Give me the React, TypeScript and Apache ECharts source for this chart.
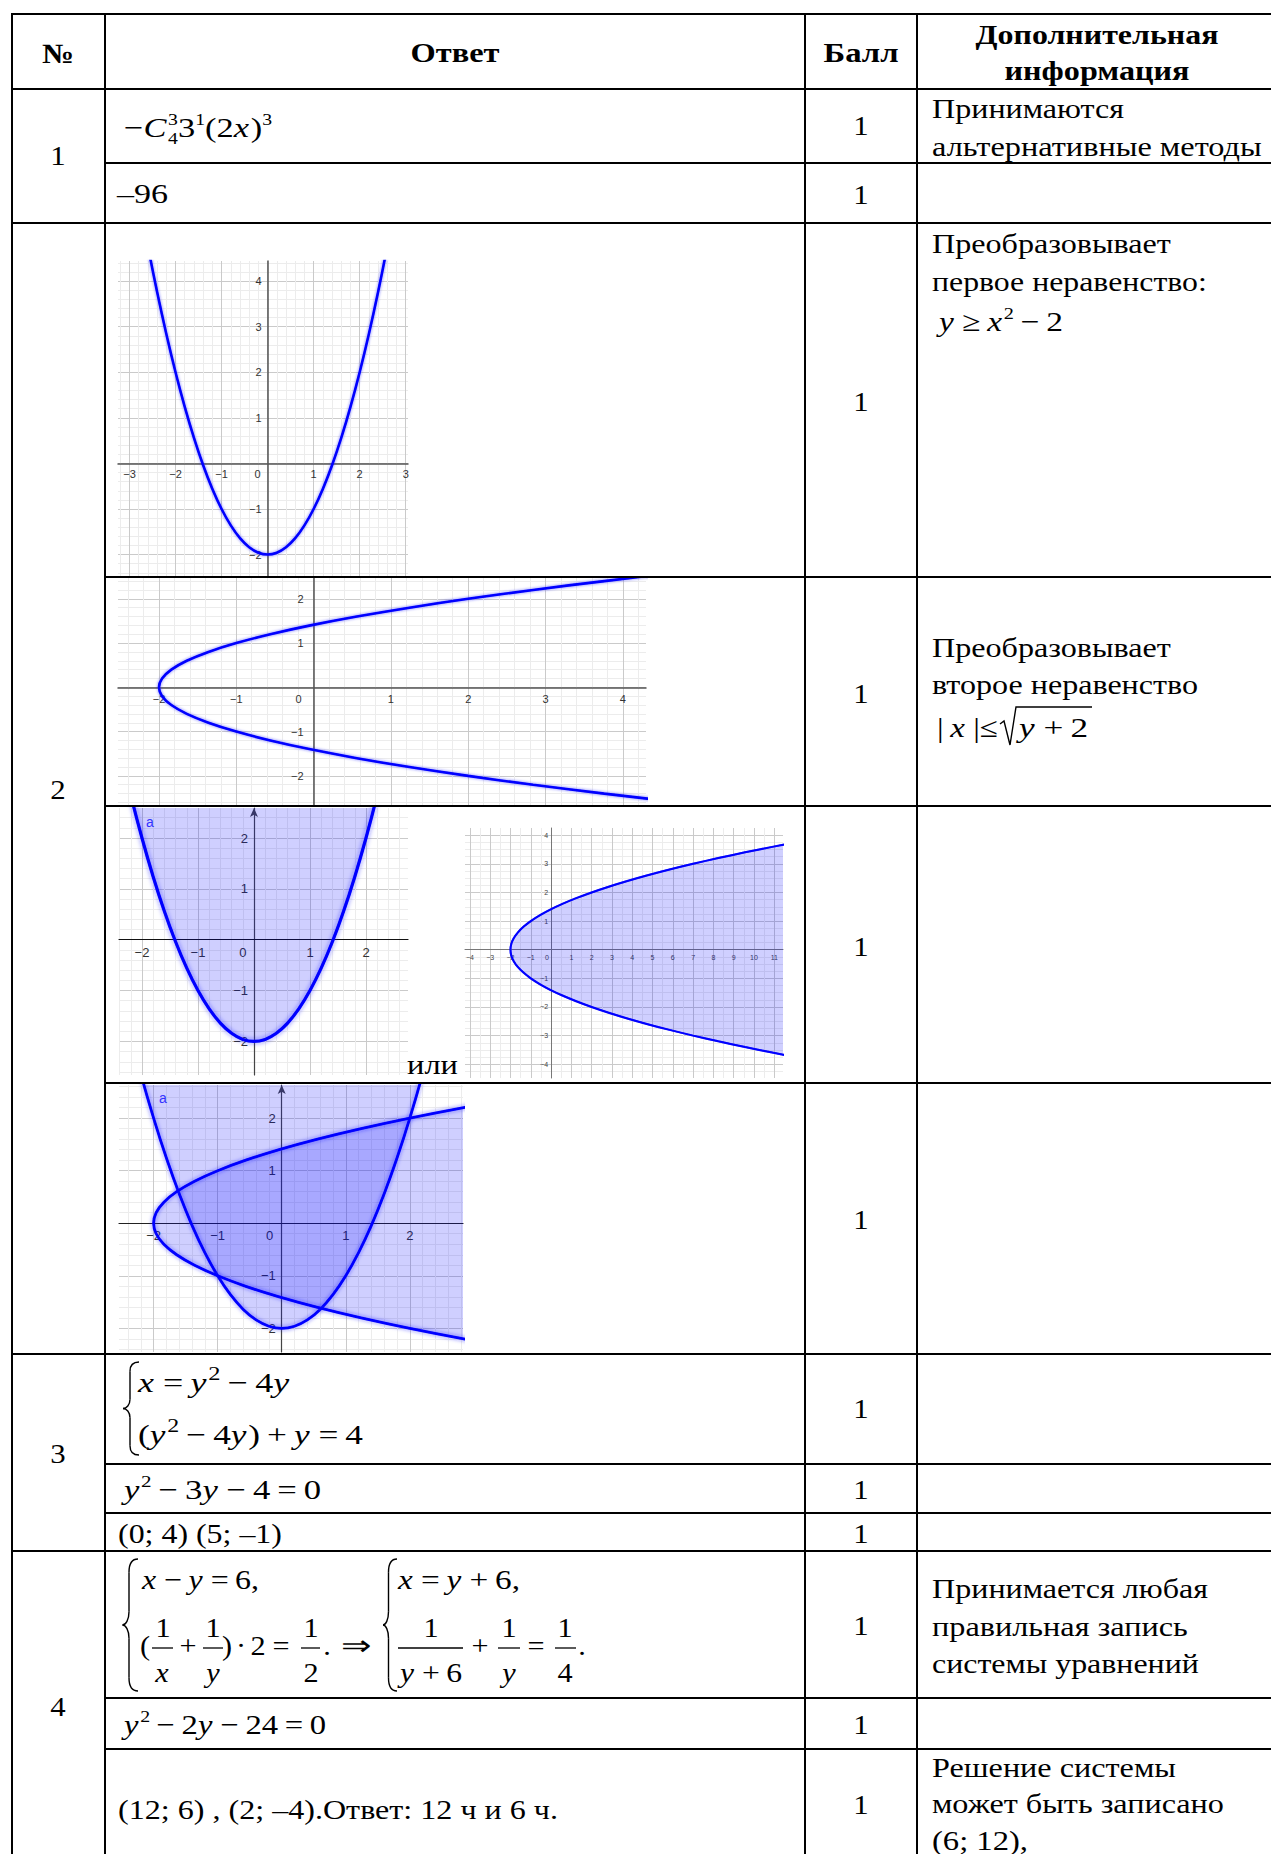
import React, { useEffect, useRef } from 'react';
import * as echarts from 'echarts';

// ---------- content ----------
const HEADER_TITLES = ['№', 'Ответ', 'Балл'];
const HEADER_NOTE_LINES = ['Дополнительная', 'информация'];
const TASK_NUMBERS = ['1', '2', '3', '4'];
const SCORES = ['1', '1', '1', '1', '1', '1', '1', '1', '1', '1', '1', '1'];
const NOTE_TASK1 = ['Принимаются', 'альтернативные методы'];
const NOTE_STEP1 = ['Преобразовывает', 'первое неравенство:'];
const NOTE_STEP2 = ['Преобразовывает', 'второе неравенство'];
const NOTE_TASK4A = ['Принимается любая', 'правильная запись', 'системы уравнений'];
const NOTE_TASK4C = ['Решение системы', 'может быть записано', '(6; 12),'];
const ANSWER_TEXTS = ['–96', '(0; 4) (5; –1)', '(12; 6) , (2; –4).Ответ: 12 ч и 6 ч.'];
const OR_TEXT = 'или';
const AREA_LABEL = 'a';

// points read along the plotted parabolas: parameter t and companion value s
const CURVE_T = [0, 0.2, 0.4, 0.6, 0.8, 1, 1.2, 1.4, 1.6, 1.8, 2, 2.2, 2.4, 2.6, 2.8, 3, 3.2, 3.4, 3.6, 3.8];
const CURVE_S = [-2, -1.96, -1.84, -1.64, -1.36, -1, -0.56, -0.04, 0.56, 1.24, 2, 2.84, 3.76, 4.76, 5.84, 7, 8.24, 9.56, 10.96, 12.44];

// axis windows of the five plots [xmin, xmax, ymin, ymax]
const PLOT_RANGES = [
  [-3.25, 3.05, -2.47, 4.44],
  [-2.53, 4.3, -2.68, 2.47],
  [-2.41, 2.75, -2.66, 2.59],
  [-4.24, 11.43, -4.48, 4.25],
  [-2.54, 2.83, -2.45, 2.63],
];

// ---------- helpers ----------
const SERIF = 'Liberation Serif';
const SANS = 'Liberation Sans';
const CENTRAL = 0.34;
const BLUE = '#0000ff';
const FILL = 'rgba(0,0,255,0.27)';

let mctx: CanvasRenderingContext2D | null = null;
function measure(t: string, size: number, italic = false, bold = false) {
  if (!mctx) mctx = document.createElement('canvas').getContext('2d');
  mctx!.font = `${italic ? 'italic ' : ''}${bold ? 'bold ' : ''}${size}px ${SERIF}`;
  return mctx!.measureText(t).width;
}

function txt(t: string, x: number, y: number, size: number, o: any = {}) {
  const align = o.align || 'left';
  return {
    type: 'text', x, y, scaleX: o.scaleX ?? 1, z: 100, silent: true,
    style: {
      text: t, fill: o.fill || '#000', fontSize: size, fontFamily: o.family || SERIF,
      fontStyle: o.italic ? 'italic' : 'normal', fontWeight: o.bold ? 'bold' : 'normal',
      align, verticalAlign: 'middle', textAlign: align, textVerticalAlign: 'middle',
    },
  };
}

function fitLine(t: string, xl: number, xr: number, yc: number, size = 28, bold = false) {
  const k = (xr - xl + 2) / measure(t, size, false, bold);
  return txt(t, xl - 1, yc, size, { scaleX: k, bold });
}
function fitCenter(t: string, cx: number, w: number, yc: number, size = 28, bold = false) {
  const k = (w + 2) / measure(t, size, false, bold);
  return txt(t, cx, yc, size, { scaleX: k, bold, align: 'center' });
}
function glyph(t: string, cx: number, base: number, fs = 28, italic = false, sx = 1.08) {
  return txt(t, cx, base - CENTRAL * fs, fs, { align: 'center', italic, scaleX: sx });
}

type Run = [string, string?];
function formula(xl: number, xr: number, base: number, fs: number, runs: Run[], supRatio = 0.62) {
  let pos = 0;
  const placed: any[] = [];
  for (const [t, f = ''] of runs) {
    const sup = f.includes('^');
    const sub = f.includes('_');
    const size = sup || sub ? Math.round(fs * supRatio) : fs;
    const it = f.includes('i');
    const op = f.includes('o');
    if (op) pos += fs * 0.2;
    const w = measure(t, size, it);
    const shift = sup ? -fs * 0.42 : sub ? fs * 0.25 : 0;
    placed.push({ t, pos, size, it, shift });
    if (!f.includes('s')) pos += w + (it ? fs * 0.05 : 0);
    if (op) pos += fs * 0.2;
  }
  const k = (xr - xl) / pos;
  return placed.map((p) =>
    txt(p.t, xl + p.pos * k, base + p.shift - CENTRAL * p.size, p.size, { italic: p.it, scaleX: k })
  );
}

function hline(x1: number, x2: number, y: number, w = 2) {
  return { type: 'line', z: 110, silent: true, shape: { x1, y1: y, x2, y2: y }, style: { stroke: '#000', lineWidth: w } };
}
function vline(x: number, y1: number, y2: number, w = 2) {
  return { type: 'line', z: 110, silent: true, shape: { x1: x, y1, x2: x, y2 }, style: { stroke: '#000', lineWidth: w } };
}
function bez(x1: number, y1: number, cpx1: number, cpy1: number, cpx2: number, cpy2: number, x2: number, y2: number) {
  return {
    type: 'bezierCurve', z: 100, silent: true,
    shape: { x1, y1, x2, y2, cpx1, cpy1, cpx2, cpy2 },
    style: { stroke: '#000', lineWidth: 1.4, fill: null },
  };
}
function brace(xp: number, xs: number, xh: number, yT: number, yB: number) {
  const yM = (yT + yB) / 2;
  const r = (yB - yT) * 0.1;
  return [
    bez(xh, yT, xs + (xh - xs) * 0.3, yT, xs, yT + r * 0.35, xs, yT + r),
    vline(xs, yT + r, yM - r, 1.4),
    bez(xs, yM - r, xs, yM - r * 0.4, xp + (xs - xp) * 0.5, yM, xp, yM),
    bez(xp, yM, xp + (xs - xp) * 0.5, yM, xs, yM + r * 0.4, xs, yM + r),
    vline(xs, yM + r, yB - r, 1.4),
    bez(xs, yB - r, xs, yB - r * 0.35, xs + (xh - xs) * 0.3, yB, xh, yB),
  ].map((e: any) => ({ ...e, z: 100 }));
}
function bar(x1: number, x2: number, y: number) {
  return { type: 'line', z: 100, silent: true, shape: { x1, y1: y, x2, y2: y }, style: { stroke: '#000', lineWidth: 1.3 } };
}

// ---------- table graphics ----------
function buildGraphics() {
  const g: any[] = [];
  const hc = [58, 455, 861];
  const hw = [30, 87, 73];
  HEADER_TITLES.forEach((t, i) => g.push(fitCenter(t, hc[i], hw[i], 53, 28, true)));
  g.push(fitCenter(HEADER_NOTE_LINES[0], 1097, 241, 34, 28, true));
  g.push(fitCenter(HEADER_NOTE_LINES[1], 1097, 183, 71, 28, true));

  const ty = [155, 789, 1453, 1706];
  TASK_NUMBERS.forEach((t, i) => g.push(txt(t, 58, ty[i], 28, { align: 'center', scaleX: 1.1 })));
  const sy = [125, 194, 401, 693, 946, 1219, 1408, 1489, 1533, 1625, 1724, 1804];
  SCORES.forEach((t, i) => g.push(txt(t, 861, sy[i], 28, { align: 'center', scaleX: 1.1 })));

  g.push(fitLine(NOTE_TASK1[0], 933, 1123, 109));
  g.push(fitLine(NOTE_TASK1[1], 933, 1261, 147));
  g.push(fitLine(NOTE_STEP1[0], 933, 1170, 244));
  g.push(fitLine(NOTE_STEP1[1], 933, 1206, 281));
  g.push(fitLine(NOTE_STEP2[0], 933, 1170, 648));
  g.push(fitLine(NOTE_STEP2[1], 933, 1197, 685));
  g.push(fitLine(NOTE_TASK4A[0], 933, 1207, 1589));
  g.push(fitLine(NOTE_TASK4A[1], 933, 1187, 1627));
  g.push(fitLine(NOTE_TASK4A[2], 933, 1198, 1663));
  g.push(fitLine(NOTE_TASK4C[0], 933, 1175, 1768));
  g.push(fitLine(NOTE_TASK4C[1], 933, 1223, 1804));
  g.push(fitLine(NOTE_TASK4C[2], 933, 1027, 1841));

  g.push(fitLine(ANSWER_TEXTS[0], 118, 167, 194));
  g.push(fitLine(ANSWER_TEXTS[1], 119, 281, 1533));
  g.push(fitLine(ANSWER_TEXTS[2], 119, 557, 1810));
  g.push(fitLine(OR_TEXT, 408, 457, 1065));

  g.push(...formula(124, 272, 137, 28, [['−'], ['C', 'i'], ['3', '^s'], ['4', '_'], ['3'], ['1', '^'], ['('], ['2'], ['x', 'i'], [')'], ['3', '^']], 0.58));
  g.push(...formula(939, 1063, 331, 28, [['y', 'i'], ['≥', 'o'], ['x', 'i'], ['2', '^'], ['−', 'o'], ['2']]));
  g.push(...formula(937, 998, 737, 28, [['|'], ['x', 'io'], ['|'], ['≤']]));
  g.push(...formula(1019, 1088, 737, 28, [['y', 'i'], ['+', 'o'], ['2']]));
  g.push({
    type: 'polyline', z: 100, silent: true,
    shape: { points: [[1000, 724], [1004, 721], [1010, 745], [1016, 707], [1092, 707]] },
    style: { stroke: '#000', lineWidth: 1.4, fill: null },
  });
  g.push(...brace(123, 130, 139, 1362, 1455));
  g.push(...formula(138, 291, 1392, 28, [['x', 'i'], ['=', 'o'], ['y', 'i'], ['2', '^'], ['−', 'o'], ['4'], ['y', 'i']], 0.68));
  g.push(...formula(138, 363, 1444, 28, [['('], ['y', 'i'], ['2', '^'], ['−', 'o'], ['4'], ['y', 'i'], [')'], ['+', 'o'], ['y', 'i'], ['=', 'o'], ['4']], 0.68));
  g.push(...formula(124, 321, 1499, 28, [['y', 'i'], ['2', '^'], ['−', 'o'], ['3'], ['y', 'i'], ['−', 'o'], ['4'], ['=', 'o'], ['0']]));
  g.push(...formula(124, 326, 1734, 28, [['y', 'i'], ['2', '^'], ['−', 'o'], ['2'], ['y', 'i'], ['−', 'o'], ['24'], ['=', 'o'], ['0']]));

  g.push(...brace(122.5, 129, 138, 1559, 1691));
  g.push(...brace(383, 388.5, 397, 1559, 1691));
  g.push(...formula(142, 259, 1589, 28, [['x', 'i'], ['−', 'o'], ['y', 'i'], ['=', 'o'], ['6,']]));
  g.push(...formula(398, 520, 1589, 28, [['x', 'i'], ['=', 'o'], ['y', 'i'], ['+', 'o'], ['6,']]));
  const nb = 1637, db = 1682, mb = 1655, by = 1648;
  g.push(glyph('(', 145, mb));
  g.push(glyph('1', 163, nb)); g.push(bar(152, 173, by)); g.push(glyph('x', 162, db, 28, true));
  g.push(glyph('+', 188, mb));
  g.push(glyph('1', 213, nb)); g.push(bar(203, 223, by)); g.push(glyph('y', 213, db, 28, true));
  g.push(glyph(')', 227, mb));
  g.push(glyph('·', 241, mb));
  g.push(glyph('2', 258, mb));
  g.push(glyph('=', 281, mb));
  g.push(glyph('1', 311, nb)); g.push(bar(301, 320, by)); g.push(glyph('2', 311, db));
  g.push(glyph('.', 327, mb));
  g.push(glyph('⇒', 356, mb, 28, false, 1.3));
  g.push(glyph('1', 431, nb)); g.push(bar(398, 463, by));
  g.push(...formula(400, 462, db, 28, [['y', 'i'], ['+', 'o'], ['6']]));
  g.push(glyph('+', 480, mb));
  g.push(glyph('1', 509, nb)); g.push(bar(498, 520, by)); g.push(glyph('y', 509, db, 28, true));
  g.push(glyph('=', 536, mb));
  g.push(glyph('1', 565, nb)); g.push(bar(555, 576, by)); g.push(glyph('4', 565, db));
  g.push(glyph('.', 582, mb));

  g.push(txt(AREA_LABEL, 150, 822, 14, { family: SANS, fill: '#3333ff', align: 'center' }));
  g.push(txt(AREA_LABEL, 163, 1098, 14, { family: SANS, fill: '#3333ff', align: 'center' }));

  const W = 1271, H = 1854;
  [12, 105, 805, 917].forEach((x) => g.push(vline(x, 13, H)));
  [14, 89, 223, 1354, 1551].forEach((y) => g.push(hline(11, W, y)));
  [163, 577, 806, 1083, 1464, 1513, 1698, 1749].forEach((y) => g.push(hline(105, W, y)));
  return g;
}

// ---------- plots ----------
const isInt = (v: number) => Math.abs(v - Math.round(v)) < 1e-6;
const fmt = (v: number) => (v < 0 ? '−' + Math.abs(v) : String(v));

function axis(dim: 'x' | 'y', gi: number, min: number, max: number, split: number, minor: number, offset: number, o: any) {
  return {
    type: 'value', gridIndex: gi, min, max, splitNumber: split, offset,
    position: dim === 'x' ? 'bottom' : 'left',
    axisLine: {
      show: true, onZero: false,
      symbol: o.arrow ? ['none', 'arrow'] : 'none', symbolSize: [6, 9],
      lineStyle: { color: o.axisColor, width: o.axisWidth },
    },
    axisTick: { show: false },
    axisLabel: {
      show: true, margin: o.margin, fontSize: o.fs, fontFamily: SANS, color: o.labelColor || '#333',
      hideOverlap: false,
      formatter: (v: number) => {
        if (!isInt(v)) return '';
        const r = Math.round(v);
        if (r === 0) return dim === 'x' ? '{z|0}' : '';
        return fmt(r);
      },
      rich: { z: { padding: [0, o.zeroPad || 0, 0, 0], fontSize: o.fs, fontFamily: SANS, color: o.labelColor || '#333' } },
    },
    splitLine: { show: true, showMinLine: false, showMaxLine: false, lineStyle: { color: '#cacaca', width: 1 } },
    minorTick: { show: false, splitNumber: minor },
    minorSplitLine: { show: true, lineStyle: { color: '#ececec', width: 1 } },
  };
}

function buildOption() {
  const n = CURVE_T.length;
  const parabola: number[][] = [];
  for (let i = n - 1; i >= 1; i--) parabola.push([-CURVE_T[i], CURVE_S[i]]);
  for (let i = 0; i < n; i++) parabola.push([CURVE_T[i], CURVE_S[i]]);
  const sideUpper = CURVE_T.map((t, i) => [CURVE_S[i], t]);
  const sideLower = CURVE_T.map((t, i) => [CURVE_S[i], i === 0 ? 0 : -t]);
  const sideFull = [...sideLower.slice(1).reverse(), ...sideUpper];

  const grids = [
    { left: 118, top: 261, width: 290, height: 315 },
    { left: 118, top: 578, width: 528, height: 228 },
    { left: 119, top: 808, width: 289, height: 267 },
    { left: 465, top: 828, width: 318, height: 250 },
    { left: 119, top: 1085, width: 344, height: 267 },
  ];
  const splits = [[6, 7], [7, 5], [5, 5], [16, 9], [5, 5]];
  const minors = [[5, 5], [5, 5], [5, 5], [2, 4], [5, 5]];
  const xo = [
    { axisColor: '#555', axisWidth: 1.5, fs: 11, margin: 5, zeroPad: 20 },
    { axisColor: '#555', axisWidth: 1.5, fs: 11, margin: 6, zeroPad: 30 },
    { axisColor: '#111', axisWidth: 1.2, fs: 13, margin: 6, zeroPad: 22 },
    { axisColor: '#777', axisWidth: 1, fs: 7, margin: 4, zeroPad: 8, labelColor: '#444' },
    { axisColor: '#222', axisWidth: 1.2, fs: 13, margin: 6, zeroPad: 24 },
  ];
  const yo = [
    { axisColor: '#555', axisWidth: 1.5, fs: 11, margin: 6 },
    { axisColor: '#555', axisWidth: 1.5, fs: 11, margin: 10 },
    { axisColor: '#444', axisWidth: 1.2, fs: 13, margin: 6, arrow: true },
    { axisColor: '#777', axisWidth: 1, fs: 7, margin: 3, labelColor: '#444' },
    { axisColor: '#444', axisWidth: 1.2, fs: 13, margin: 6, arrow: true },
  ];
  // axes sit at the zero of the other axis: shift them from the grid edge by the zero's place in the window
  const xAxis = PLOT_RANGES.map((r, i) => {
    const off = -((0 - r[2]) / (r[3] - r[2])) * grids[i].height;
    return axis('x', i, r[0], r[1], splits[i][0], minors[i][0], off, xo[i]);
  });
  const yAxis = PLOT_RANGES.map((r, i) => {
    const off = -((0 - r[0]) / (r[1] - r[0])) * grids[i].width;
    return axis('y', i, r[2], r[3], splits[i][1], minors[i][1], off, yo[i]);
  });

  const stroke = (gi: number, data: number[][], width: number, blur: number) => ({
    type: 'line', xAxisIndex: gi, yAxisIndex: gi, data, smooth: 0.4, showSymbol: false, symbol: 'none',
    silent: true, clip: true, z: 5,
    lineStyle: { color: BLUE, width, shadowColor: 'rgba(30,30,255,0.6)', shadowBlur: blur },
  });
  const area = (gi: number, data: number[][], origin: any) => ({
    type: 'line', xAxisIndex: gi, yAxisIndex: gi, data, smooth: 0.4, showSymbol: false, symbol: 'none',
    silent: true, clip: true, z: 3,
    lineStyle: { width: 0, opacity: 0 },
    areaStyle: { color: FILL, origin },
  });

  const series = [
    stroke(0, parabola, 2.6, 3),
    stroke(1, sideFull, 2.6, 3),
    area(2, parabola, 'end'),
    stroke(2, parabola, 3.2, 5),
    area(3, sideUpper, 0),
    area(3, sideLower, 0),
    stroke(3, sideFull, 2, 1),
    area(4, parabola, 'end'),
    area(4, sideUpper, 0),
    area(4, sideLower, 0),
    stroke(4, parabola, 2.8, 4),
    stroke(4, sideFull, 2.8, 4),
  ];

  return {
    animation: false,
    backgroundColor: '#fff',
    grid: grids.map((g) => ({ ...g, containLabel: false })),
    xAxis,
    yAxis,
    series,
    graphic: { elements: buildGraphics() },
  };
}

export default function App() {
  const ref = useRef<HTMLDivElement>(null);
  useEffect(() => {
    document.body.style.margin = '0';
    const chart = echarts.init(ref.current!, null, { renderer: 'svg' });
    chart.setOption(buildOption() as any);
    return () => chart.dispose();
  }, []);
  return <div ref={ref} style={{ width: 1271, height: 1854, background: '#fff' }} />;
}
